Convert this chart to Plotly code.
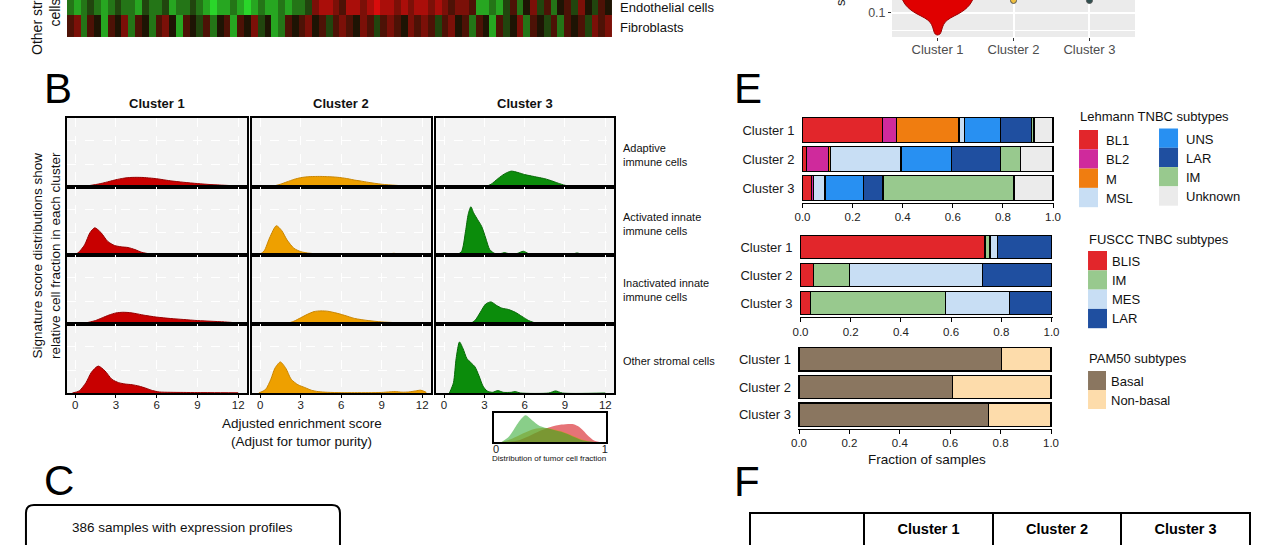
import plotly.graph_objects as go

W, H = 1280, 545
FONT = "Arial, Liberation Sans, sans-serif"
XSCALE = 0.989  # compensates the slight horizontal squeeze seen in the photographed page


def fx(x):
    return (W / 2 + (x - W / 2) / XSCALE) / W


def fy(y):
    return 1 - y / H


# ------------------------------------------------------------------ data
clusters = ["Cluster 1", "Cluster 2", "Cluster 3"]
cluster_colors = ["#c80000", "#eea000", "#0b8c0b"]
cluster_lines = ["#960000", "#c98500", "#066806"]

cell_rows = ["Adaptive<br>immune cells", "Activated innate<br>immune cells",
             "Inactivated innate<br>immune cells", "Other stromal cells"]

# panel A heatmap strip (signed level, -4 green ... +4 red)
heat_labels = ["Fibroblasts", "Endothelial cells"]
heat_endothelial = [-2, -3, -2, -1, -2, -3, -2, -1, -2, -2, -3, -1, -2, -2, -1, -3, -2, -2, -1, -2,
                    -3, -4, -3, -3, -2, -3, -4, -3, -2, -3, -3, -2, -3, -2, -2, -1,
                    2, 3, 3, 2, 1, 3, 3, 2, 3, 4, 3, 3, 2, 3, 2, 3, 3, 2, 3, 2, 1, 2, 2, 1,
                    -3, -3, -2, -3,
                    -1, 1, -2, 0, 2, -1, 1, -2, 0, 1, -1, 2, 0, -1, 1, 0]
heat_fibroblasts = [1, 2, -2, 1, 0, -3, 1, 0, 2, -2, 1, 0, -2, 1, 2, 0, -3, 1, 0, -1,
                    1, -2, 0, 1, -3, 1, 0, 2, -1, 0, -3, -2, 1, 0, 1, 2, 0, 1, -1, 1,
                    2, 1, 0, 2, 1, -1, 1, 2, 1, 0, 2, 1, 2, 1, -1, 1, 2, 0, 1, -2,
                    1, 0, -3, 1, -1, 0, 2, -2, 1, 0, -1, 1, -2, 1, 0, 1, -1, 2, 1, 2]

# top-right violin (cluster 1), visible part
violin_level = [0.127, 0.1166, 0.106, 0.098, 0.0896, 0.081, 0.0708, 0.0625, 0.056, 0.054]
violin_halfwidth = [0.46, 0.42, 0.35, 0.27, 0.17, 0.1, 0.065, 0.05, 0.03, 0.0]
box_q1, box_median, box_q3, box_low, box_high = 0.112, 0.125, 0.15, 0.058, 0.2
tip_values = [0.126, 0.126]  # clusters 2 and 3

# panel B densities (height as fraction of panel height)
dens_ticks = [0, 3, 6, 9, 12]
d_ad_c1_x = [-0.3, 0.5, 1, 1.5, 2, 2.5, 3, 3.5, 4, 4.5, 5, 5.5, 6, 6.5, 7, 8, 9, 10, 11, 12, 12.6]
d_ad_c1_y = [0, 0.01, 0.02, 0.035, 0.055, 0.08, 0.105, 0.125, 0.137, 0.14, 0.138, 0.13, 0.12, 0.105,
             0.09, 0.068, 0.05, 0.035, 0.025, 0.015, 0.01]
d_ad_c2_x = [0.3, 1, 1.5, 2, 2.5, 3, 3.5, 4, 4.5, 5, 5.5, 6, 6.5, 7, 7.5, 8, 9, 10, 11, 12, 12.5]
d_ad_c2_y = [0, 0.015, 0.04, 0.075, 0.11, 0.135, 0.148, 0.152, 0.153, 0.15, 0.145, 0.135, 0.12, 0.1,
             0.085, 0.068, 0.04, 0.025, 0.012, 0.005, 0.002]
d_ad_c3_x = [3.0, 3.5, 4, 4.5, 5, 5.5, 6, 6.5, 7, 7.5, 8, 8.5, 9, 9.5, 10]
d_ad_c3_y = [0, 0.04, 0.12, 0.19, 0.23, 0.21, 0.18, 0.16, 0.14, 0.12, 0.09, 0.055, 0.025, 0.008, 0]

d_act_c1_x = [-0.3, 0.2, 0.7, 1.1, 1.45, 1.9, 2.4, 2.9, 3.4, 3.9, 4.4, 4.9, 5.4, 6, 6.7, 7.5, 12]
d_act_c1_y = [0, 0.03, 0.15, 0.33, 0.4, 0.33, 0.2, 0.14, 0.12, 0.11, 0.08, 0.04, 0.02, 0.015, 0.008, 0, 0]
d_act_c2_x = [-0.1, 0.3, 0.7, 1.2, 1.6, 2.0, 2.5, 3.0, 3.5, 4, 5, 6, 8, 9, 9.5, 9.9, 10.4, 11, 12]
d_act_c2_y = [0, 0.06, 0.25, 0.43, 0.36, 0.22, 0.1, 0.05, 0.03, 0.02, 0.01, 0.005, 0.003, 0.005, 0.015,
              0.025, 0.01, 0.003, 0.002]
d_act_c3_x = [0.9, 1.3, 1.6, 1.8, 2.0, 2.2, 2.5, 2.8, 3.1, 3.4, 3.8, 4.2, 4.5, 4.8, 5.4, 5.9, 6.3, 7,
              9.4, 9.9, 10.4, 12]
d_act_c3_y = [0, 0.05, 0.35, 0.6, 0.71, 0.62, 0.52, 0.42, 0.25, 0.08, 0.02, 0.02, 0.035, 0.02, 0.02,
              0.055, 0.02, 0, 0, 0.03, 0, 0]

d_in_c1_x = [0, 0.5, 1, 1.5, 2, 2.5, 3, 3.5, 4, 4.5, 5, 6, 7, 8, 9, 10, 11, 12, 12.5]
d_in_c1_y = [0.005, 0.01, 0.025, 0.05, 0.09, 0.13, 0.16, 0.17, 0.165, 0.15, 0.13, 0.1, 0.08, 0.065,
             0.05, 0.04, 0.03, 0.015, 0.005]
d_in_c2_x = [1.5, 2, 2.5, 3, 3.5, 4, 4.5, 5, 5.5, 6, 6.5, 7, 8, 9, 10, 11, 12]
d_in_c2_y = [0, 0.01, 0.04, 0.09, 0.14, 0.18, 0.19, 0.185, 0.165, 0.14, 0.11, 0.08, 0.05, 0.03, 0.02,
             0.012, 0.005]
d_in_c3_x = [1.9, 2.3, 2.7, 3.1, 3.5, 3.9, 4.3, 4.8, 5.3, 5.8, 6.3, 6.8, 7.3, 12]
d_in_c3_y = [0, 0.05, 0.17, 0.29, 0.32, 0.27, 0.23, 0.21, 0.17, 0.11, 0.05, 0.015, 0, 0]

d_st_c1_x = [-0.2, 0.3, 0.8, 1.2, 1.7, 2.2, 2.7, 3.2, 3.7, 4.2, 4.7, 5.2, 5.7, 6.2, 7, 8, 9, 10, 12]
d_st_c1_y = [0, 0.03, 0.15, 0.3, 0.39, 0.32, 0.2, 0.15, 0.13, 0.12, 0.1, 0.07, 0.035, 0.015, 0.01,
             0.008, 0.006, 0.005, 0.003]
d_st_c2_x = [-0.1, 0.4, 0.8, 1.1, 1.5, 1.9, 2.3, 2.8, 3.3, 3.8, 4.3, 5, 6, 7, 8, 9, 9.5, 10, 10.5, 11,
             11.5, 11.9, 12.3]
d_st_c2_y = [0, 0.05, 0.2, 0.36, 0.45, 0.36, 0.2, 0.12, 0.08, 0.04, 0.02, 0.01, 0.005, 0.005, 0.005,
             0.008, 0.015, 0.02, 0.012, 0.015, 0.03, 0.04, 0.01]
d_st_c3_x = [0.4, 0.7, 0.9, 1.15, 1.4, 1.7, 2.0, 2.3, 2.6, 2.9, 3.2, 3.6, 4.0, 4.4, 5.0, 5.3, 5.7,
             7.8, 8.3, 8.8, 12]
d_st_c3_y = [0, 0.15, 0.5, 0.74, 0.65, 0.5, 0.44, 0.38, 0.25, 0.1, 0.03, 0.01, 0.035, 0.01, 0.01,
             0.02, 0, 0, 0.03, 0, 0]

# inset: distribution of tumour cell fraction
purity_c1_x = [0.1, 0.2, 0.3, 0.4, 0.5, 0.6, 0.7, 0.75, 0.8, 0.85, 0.9, 0.95]
purity_c1_y = [0, 0.05, 0.2, 0.38, 0.52, 0.6, 0.62, 0.55, 0.4, 0.2, 0.05, 0]
purity_c2_x = [0.05, 0.15, 0.25, 0.35, 0.45, 0.55, 0.65, 0.75, 0.85, 0.9]
purity_c2_y = [0, 0.12, 0.3, 0.45, 0.48, 0.42, 0.3, 0.15, 0.03, 0]
purity_c3_x = [0.05, 0.12, 0.2, 0.27, 0.33, 0.4, 0.5, 0.6, 0.7, 0.8, 0.9]
purity_c3_y = [0, 0.2, 0.65, 0.92, 0.75, 0.55, 0.45, 0.35, 0.2, 0.05, 0]
purity_fill = ["rgba(226,90,95,0.85)", "rgba(215,150,20,0.55)", "rgba(40,165,40,0.55)"]

# panel E stacked fractions
frac_ticks = [0, 0.2, 0.4, 0.6, 0.8, 1.0]
frac_ticktext = ["0.0", "0.2", "0.4", "0.6", "0.8", "1.0"]
lehmann_types = ["BL1", "BL2", "M", "MSL", "UNS", "LAR", "IM", "Unknown"]
lehmann_colors = ["#e2262b", "#cf2a9c", "#f07d10", "#c8def4", "#2890f2", "#1f4fa0", "#98c98e", "#ebebeb"]
lehmann_c1 = [0.32, 0.055, 0.25, 0.022, 0.142, 0.125, 0.01, 0.076]
lehmann_c2 = [0.017, 0.086, 0.009, 0.281, 0.203, 0.193, 0.082, 0.129]
lehmann_c3 = [0.036, 0.008, 0.0, 0.046, 0.154, 0.077, 0.523, 0.156]

fuscc_types = ["BLIS", "IM", "MES", "LAR"]
fuscc_colors = ["#e2262b", "#98c98e", "#c8def4", "#1f4fa0"]
fuscc_c1 = [0.735, 0.02, 0.029, 0.216]
fuscc_c2 = [0.053, 0.143, 0.53, 0.274]
fuscc_c3 = [0.039, 0.539, 0.256, 0.166]

pam50_types = ["Basal", "Non-basal"]
pam50_colors = ["#8a7660", "#fddcab"]
pam50_c1 = [0.803, 0.197]
pam50_c2 = [0.609, 0.391]
pam50_c3 = [0.752, 0.248]

table_header = ["", "<b>Cluster 1</b>", "<b>Cluster 2</b>", "<b>Cluster 3</b>"]

# ------------------------------------------------------------------ figure
fig = go.Figure()
axes = {}
shapes = []
annotations = []


def an(i, k):
    return k if i == 1 else f"{k}{i}"


def lk(i, k):
    return f"{k}axis" if i == 1 else f"{k}axis{i}"


def add_bg(i, color):
    shapes.append(dict(type="rect", xref=f"{an(i, 'x')} domain", yref=f"{an(i, 'y')} domain",
                       x0=0, x1=1, y0=0, y1=1, fillcolor=color, line_width=0, layer="below"))


def text(x, y, s, size=13, xanchor="left", yanchor="middle", angle=0, color="#111", align="left"):
    annotations.append(dict(x=fx(x), y=fy(y), xref="paper", yref="paper", text=s, showarrow=False,
                            xanchor=xanchor, yanchor=yanchor, textangle=angle, align=align,
                            font=dict(family=FONT, size=size, color=color)))


# ---- panel A heatmap strip (axis 1)
ncol = len(heat_endothelial)
fig.add_trace(go.Heatmap(z=[heat_fibroblasts, heat_endothelial], x=list(range(ncol)), y=[0, 1],
                         colorscale=[[0, "#2ad62a"], [0.5, "#1e1404"], [1, "#d80c0c"]],
                         zmin=-4, zmax=4, showscale=False, xaxis="x", yaxis="y", hoverinfo="skip"))
axes["xaxis"] = dict(domain=[fx(67), fx(612)], range=[-0.5, ncol - 0.5], visible=False, anchor="y")
axes["yaxis"] = dict(domain=[fy(37), 1], range=[-0.5, 1.22], visible=False, anchor="x")
text(618, 7, heat_labels[1])
text(618, 27, heat_labels[0])
text(46, 12, "Other stromal<br>cells", size=14, xanchor="center", angle=-90, align="center")

# ---- top right violin (axis 2)
vx = [1 - h for h in violin_halfwidth] + [1 + h for h in violin_halfwidth[::-1]]
vy = violin_level + violin_level[::-1]
fig.add_trace(go.Scatter(x=vx, y=vy, fill="toself", fillcolor="#e00000", mode="lines",
                         line=dict(color="#9a0000", width=1, shape="spline"), xaxis="x2", yaxis="y2",
                         showlegend=False, hoverinfo="skip"))
fig.add_trace(go.Box(x=[1], q1=[box_q1], median=[box_median], q3=[box_q3], lowerfence=[box_low],
                     upperfence=[box_high], width=0.1, fillcolor="rgba(0,0,0,0)",
                     line=dict(color="#b06060", width=1), xaxis="x2", yaxis="y2", showlegend=False,
                     hoverinfo="skip"))
fig.add_trace(go.Scatter(x=[2, 3], y=tip_values, mode="markers",
                         marker=dict(size=6, color=["#f0c040", "#2f4f4f"], line=dict(color="#555", width=1)),
                         xaxis="x2", yaxis="y2", showlegend=False, hoverinfo="skip", cliponaxis=True))
axes["xaxis2"] = dict(domain=[fx(892), fx(1135)], range=[0.4, 3.6], anchor="y2", tickvals=[1, 2, 3],
                      ticktext=clusters, ticks="outside", ticklen=3, tickcolor="#333", ticklabelstandoff=-3,
                      tickfont=dict(family=FONT, size=13, color="#4d4d4d"), showgrid=True,
                      gridcolor="white", gridwidth=1.5, zeroline=False, showline=False)
axes["yaxis2"] = dict(domain=[fy(37), 1], range=[0.05, 0.127], anchor="x2", tickvals=[0.1],
                      ticktext=["0.1"], ticks="outside", ticklen=3, tickcolor="#333",
                      tickfont=dict(family=FONT, size=12.5, color="#4d4d4d"), showgrid=True,
                      gridcolor="white", gridwidth=1.5, zeroline=False, showline=False,
                      minor=dict(tickvals=[0.0625], showgrid=True, gridcolor="white", gridwidth=0.8))
add_bg(2, "#ebebeb")
text(840, 3, "s", size=13, xanchor="center", angle=-90, color="#222")

# ---- panel B densities (axes 3..14)
dens_x = [[d_ad_c1_x, d_ad_c2_x, d_ad_c3_x], [d_act_c1_x, d_act_c2_x, d_act_c3_x],
          [d_in_c1_x, d_in_c2_x, d_in_c3_x], [d_st_c1_x, d_st_c2_x, d_st_c3_x]]
dens_y = [[d_ad_c1_y, d_ad_c2_y, d_ad_c3_y], [d_act_c1_y, d_act_c2_y, d_act_c3_y],
          [d_in_c1_y, d_in_c2_y, d_in_c3_y], [d_st_c1_y, d_st_c2_y, d_st_c3_y]]
col_px = [(67, 247), (252, 431), (436, 614)]
row_px = [(118, 187), (187, 255), (255, 324), (324, 393)]
for r in range(4):
    for c in range(3):
        i = 3 + r * 3 + c
        fig.add_trace(go.Scatter(x=dens_x[r][c], y=dens_y[r][c], mode="lines", fill="tozeroy",
                                 fillcolor=cluster_colors[c],
                                 line=dict(color=cluster_lines[c], width=1, shape="spline", smoothing=0.7),
                                 xaxis=an(i, "x"), yaxis=an(i, "y"), showlegend=False, hoverinfo="skip"))
        axes[lk(i, "x")] = dict(domain=[fx(col_px[c][0]), fx(col_px[c][1])], range=[-0.6, 12.65],
                                anchor=an(i, "y"), tickvals=dens_ticks, showticklabels=(r == 3),
                                ticks="outside" if r == 3 else "", ticklen=3, tickcolor="black",
                                ticklabelstandoff=-3,
                                tickfont=dict(family=FONT, size=11.5, color="#222"), showgrid=True,
                                gridcolor="white", griddash="dash", gridwidth=1.3, zeroline=False,
                                showline=True, mirror=True, linecolor="black", linewidth=1.5)
        axes[lk(i, "y")] = dict(domain=[fy(row_px[r][1]), fy(row_px[r][0])], range=[0, 1],
                                anchor=an(i, "x"), tickvals=[0.33, 0.67], showticklabels=False, ticks="",
                                showgrid=True, gridcolor="white", griddash="dash", gridwidth=1.3,
                                zeroline=False, showline=True, mirror=True, linecolor="black",
                                linewidth=1.5)
        add_bg(i, "#f3f3f3")

for c in range(3):
    text((col_px[c][0] + col_px[c][1]) / 2, 103, f"<b>{clusters[c]}</b>", size=13, xanchor="center")
row_label_y = [155, 224, 290, 361]
for r in range(4):
    text(621, row_label_y[r], cell_rows[r], size=11)
text(302, 423, "Adjusted enrichment score", size=13.5, xanchor="center")
text(302, 441, "(Adjust for tumor purity)", size=13.5, xanchor="center")
text(46, 255, "Signature score distributions show<br>relative cell fraction in each cluster", size=13.5,
     xanchor="center", angle=-90, align="center")

# ---- inset (axis 15)
purity_x = [purity_c1_x, purity_c2_x, purity_c3_x]
purity_y = [purity_c1_y, purity_c2_y, purity_c3_y]
for c in range(3):
    fig.add_trace(go.Scatter(x=purity_x[c], y=purity_y[c], mode="lines", fill="tozeroy",
                             fillcolor=purity_fill[c], line=dict(width=0, shape="spline", smoothing=0.8),
                             xaxis="x15", yaxis="y15", showlegend=False, hoverinfo="skip"))
axes["xaxis15"] = dict(domain=[fx(494), fx(606)], range=[-0.02, 1.01], anchor="y15", tickvals=[0, 1],
                       ticks="", ticklabelstandoff=-4, tickfont=dict(family=FONT, size=11, color="#222"),
                       showgrid=False, zeroline=False, showline=True, mirror=True, linecolor="black",
                       linewidth=1.5)
axes["yaxis15"] = dict(domain=[fy(442), fy(413)], range=[0, 1], anchor="x15", showticklabels=False,
                       ticks="", showgrid=False, zeroline=False, showline=True, mirror=True,
                       linecolor="black", linewidth=1.5)
text(549, 458, "Distribution of tumor cell fraction", size=8, xanchor="center")

# ---- panel E stacked bars (axes 16..18)
blocks = [
    (16, lehmann_types, lehmann_colors, [lehmann_c1, lehmann_c2, lehmann_c3], (801.5, 1054), (115.5, 202.5)),
    (17, fuscc_types, fuscc_colors, [fuscc_c1, fuscc_c2, fuscc_c3], (799.5, 1052.5), (233, 317)),
    (18, pam50_types, pam50_colors, [pam50_c1, pam50_c2, pam50_c3], (798, 1052), (345.5, 428.5)),
]
for i, types, colors, vals, (xa, xb), (ya, yb) in blocks:
    for k, t in enumerate(types):
        fig.add_trace(go.Bar(x=[v[k] for v in vals], y=[0, 1, 2], orientation="h", width=0.84, name=t,
                             marker=dict(color=colors[k], line=dict(color="black", width=1.2)),
                             xaxis=an(i, "x"), yaxis=an(i, "y"), showlegend=False, hoverinfo="skip"))
    axes[lk(i, "x")] = dict(domain=[fx(xa), fx(xb)], range=[-0.004, 1.004], anchor=an(i, "y"),
                            tickvals=frac_ticks, ticktext=frac_ticktext, ticks="outside", ticklen=4,
                            tickcolor="black", tickfont=dict(family=FONT, size=11.5, color="#222"),
                            showgrid=False, zeroline=False, showline=True, linecolor="black", linewidth=1)
    axes[lk(i, "y")] = dict(domain=[fy(yb), fy(ya)], range=[2.5, -0.5], anchor=an(i, "x"),
                            tickvals=[0, 1, 2], ticktext=clusters, ticks="", ticklabelstandoff=6,
                            tickfont=dict(family=FONT, size=13, color="#1a1a1a"), showgrid=False,
                            zeroline=False, showline=False)
text(927, 459, "Fraction of samples", size=13.5, xanchor="center")

# legends for panel E
text(1078, 116, "Lehmann TNBC subtypes", size=13)
leg_cols = [(1079, 1098, 130, 1104, lehmann_types[:4], lehmann_colors[:4]),
            (1159, 1178, 128.5, 1184, lehmann_types[4:], lehmann_colors[4:])]
for x0, x1, y0, tx, names, cols in leg_cols:
    for k, (nm, col) in enumerate(zip(names, cols)):
        shapes.append(dict(type="rect", xref="paper", yref="paper", x0=fx(x0), x1=fx(x1),
                           y0=fy(y0 + 19.3 * (k + 1)), y1=fy(y0 + 19.3 * k), fillcolor=col, line_width=0))
        text(tx, y0 + 19.3 * k + 10.5, nm, size=13)
text(1087, 239, "FUSCC TNBC subtypes", size=13)
for k, (nm, col) in enumerate(zip(fuscc_types, fuscc_colors)):
    shapes.append(dict(type="rect", xref="paper", yref="paper", x0=fx(1088), x1=fx(1107),
                       y0=fy(251 + 19.3 * (k + 1)), y1=fy(251 + 19.3 * k), fillcolor=col, line_width=0))
    text(1110, 251 + 19.3 * k + 10, nm, size=13)
text(1087, 358, "PAM50 subtypes", size=13)
for k, (nm, col) in enumerate(zip(pam50_types, pam50_colors)):
    shapes.append(dict(type="rect", xref="paper", yref="paper", x0=fx(1088), x1=fx(1106),
                       y0=fy(371 + 19 * (k + 1)), y1=fy(371 + 19 * k), fillcolor=col, line_width=0))
    text(1109, 371 + 19 * k + 10, nm, size=13)

# ---- panel letters
for letter, x, y in [("B", 42, 88), ("E", 732, 88), ("C", 42, 480), ("F", 732, 481)]:
    text(x, y, letter, size=42, color="black")

# ---- panel C box
r = 8
x0, x1, y0, y1 = 26, 340, 505, 570
path = (f"M {fx(x0)},{fy(y1)} L {fx(x0)},{fy(y0 + r)} Q {fx(x0)},{fy(y0)} {fx(x0 + r)},{fy(y0)} "
        f"L {fx(x1 - r)},{fy(y0)} Q {fx(x1)},{fy(y0)} {fx(x1)},{fy(y0 + r)} L {fx(x1)},{fy(y1)}")
shapes.append(dict(type="path", xref="paper", yref="paper", path=path, line=dict(color="black", width=2)))
text(183, 527, "386 samples with expression profiles", size=13.5, xanchor="center")

# ---- panel F table
fig.add_trace(go.Table(domain=dict(x=[fx(750), fx(1250)], y=[0, fy(513)]), columnwidth=[114, 129, 128, 129],
                       header=dict(values=table_header, height=40, align="center",
                                   font=dict(family=FONT, size=14.5, color="black"),
                                   line=dict(color="black", width=2), fill_color="white"),
                       cells=dict(values=[[""], [""], [""], [""]], height=30,
                                  line=dict(color="black", width=2), fill_color="white")))

fig.update_layout(width=W, height=H, margin=dict(l=0, r=0, t=0, b=0), paper_bgcolor="white",
                  plot_bgcolor="rgba(0,0,0,0)", barmode="stack", showlegend=False,
                  font=dict(family=FONT), shapes=shapes, annotations=annotations, **axes)

fig.write_html("out.html", config={"displayModeBar": False},
               post_script="document.body.style.margin='0';document.body.style.overflow='hidden';")
